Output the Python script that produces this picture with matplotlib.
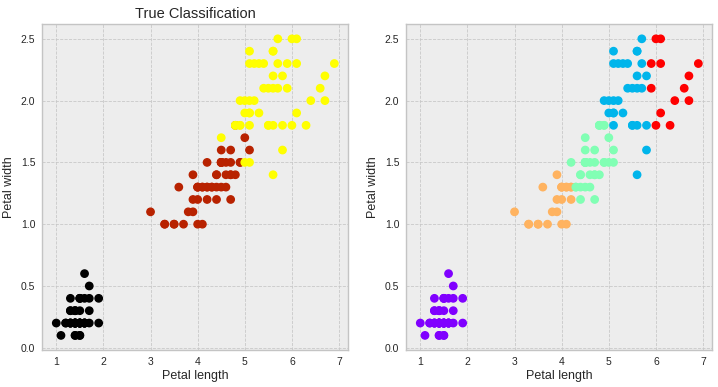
import matplotlib.pyplot as plt
import numpy as np

# Iris petal measurements (setosa, versicolor, virginica)
petal_length = [1.4,1.4,1.3,1.5,1.4,1.7,1.4,1.5,1.4,1.5,1.5,1.6,1.4,1.1,1.2,1.5,1.3,1.4,1.7,1.5,
                1.7,1.5,1.0,1.7,1.9,1.6,1.6,1.5,1.4,1.6,1.6,1.5,1.5,1.4,1.5,1.2,1.3,1.4,1.3,1.5,
                1.3,1.3,1.3,1.6,1.9,1.4,1.6,1.4,1.5,1.4,
                4.7,4.5,4.9,4.0,4.6,4.5,4.7,3.3,4.6,3.9,3.5,4.2,4.0,4.7,3.6,4.4,4.5,4.1,4.5,3.9,
                4.8,4.0,4.9,4.7,4.3,4.4,4.8,5.0,4.5,3.5,3.8,3.7,3.9,5.1,4.5,4.5,4.7,4.4,4.1,4.0,
                4.4,4.6,4.0,3.3,4.2,4.2,4.2,4.3,3.0,4.1,
                6.0,5.1,5.9,5.6,5.8,6.6,4.5,6.3,5.8,6.1,5.1,5.3,5.5,5.0,5.1,5.3,5.5,6.7,6.9,5.0,
                5.7,4.9,6.7,4.9,5.7,6.0,4.8,4.9,5.6,5.8,6.1,6.4,5.6,5.1,5.6,6.1,5.6,5.5,4.8,5.4,
                5.6,5.1,5.1,5.9,5.7,5.2,5.0,5.2,5.4,5.1]
petal_width = [0.2,0.2,0.2,0.2,0.2,0.4,0.3,0.2,0.2,0.1,0.2,0.2,0.1,0.1,0.2,0.4,0.4,0.3,0.3,0.3,
               0.2,0.4,0.2,0.5,0.2,0.2,0.4,0.2,0.2,0.2,0.2,0.4,0.1,0.2,0.2,0.2,0.2,0.1,0.2,0.2,
               0.3,0.3,0.2,0.6,0.4,0.3,0.2,0.2,0.2,0.2,
               1.4,1.5,1.5,1.3,1.5,1.3,1.6,1.0,1.3,1.4,1.0,1.5,1.0,1.4,1.3,1.4,1.5,1.0,1.5,1.1,
               1.8,1.3,1.5,1.2,1.3,1.4,1.4,1.7,1.5,1.0,1.1,1.0,1.2,1.6,1.5,1.6,1.5,1.3,1.3,1.3,
               1.2,1.4,1.2,1.0,1.3,1.2,1.3,1.3,1.1,1.3,
               2.5,1.9,2.1,1.8,2.2,2.1,1.7,1.8,1.8,2.5,2.0,1.9,2.1,2.0,2.4,2.3,1.8,2.2,2.3,1.5,
               2.3,2.0,2.0,1.8,2.1,1.8,1.8,1.8,2.1,1.6,1.9,2.0,2.2,1.5,1.4,2.3,2.4,1.8,1.8,2.1,
               2.4,2.3,1.9,2.3,2.5,2.3,1.9,2.0,2.3,1.8]
species = [0]*50 + [1]*50 + [2]*50

# cluster labels
clusters = [0]*50 + \
    [2,2,2,3,2,2,2,3,2,3,3,2,3,2,3,2,2,3,2,3,
     2,3,2,2,2,2,2,2,2,3,3,3,3,2,2,2,2,2,3,3,
     2,2,3,3,3,3,3,2,3,3] + \
    [4,1,4,1,1,4,2,4,1,4,1,1,1,1,1,1,1,4,4,2,
     1,1,4,2,1,4,2,2,1,1,4,4,1,2,1,4,1,1,2,1,
     1,1,1,4,1,1,1,1,1,1]

species_colors = np.array(['black', '#b82200', '#ffff00'])

plt.rcParams['font.family'] = ['Liberation Sans', 'DejaVu Sans']
plt.rcParams['axes.facecolor'] = '#ededed'
plt.rcParams['axes.edgecolor'] = '#c4c4c4'
plt.rcParams['text.color'] = '#262626'
plt.rcParams['axes.labelcolor'] = '#262626'
plt.rcParams['xtick.color'] = '#262626'
plt.rcParams['ytick.color'] = '#262626'

fig, axes = plt.subplots(1, 2, figsize=(7.18, 3.87), dpi=100)
fig.subplots_adjust(left=0.059, right=0.992, bottom=0.095, top=0.938, wspace=0.19)

ax1, ax2 = axes
ax1.scatter(petal_length, petal_width, c=species_colors[species], s=28, zorder=3)
ax1.set_title('True Classification', fontsize=10.5, pad=4)
ax2.scatter(petal_length, petal_width, c=clusters, cmap='rainbow', s=28, zorder=3)

for ax in axes:
    ax.set_xlabel('Petal length', fontsize=9, labelpad=2)
    ax.set_ylabel('Petal width', fontsize=9, labelpad=4)
    ax.grid(True, linestyle='--', color='#c8c8c8', linewidth=0.6, zorder=0)
    ax.set_axisbelow(True)
    ax.tick_params(labelsize=7.5, length=0, pad=5)
    for s in ax.spines.values():
        s.set_linewidth(1.0)

plt.savefig('out.png')
